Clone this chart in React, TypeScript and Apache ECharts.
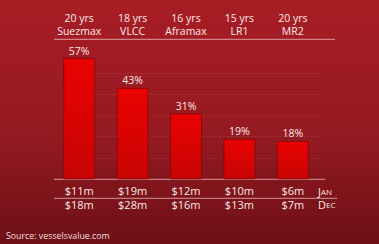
import React, { useEffect, useRef } from "react";
import * as echarts from "echarts";

const categories = ["Suezmax", "VLCC", "Aframax", "LR1", "MR2"];
const ages = ["20 yrs", "18 yrs", "16 yrs", "15 yrs", "20 yrs"];
const shares = [57, 43, 31, 19, 18];
const janValues = ["$11m", "$19m", "$12m", "$10m", "$6m"];
const decValues = ["$18m", "$28m", "$16m", "$13m", "$7m"];
const gridTicks = [0, 10, 20, 30, 40, 50, 60];

const FONT = "Open Sans";
const PX_PER_UNIT = 2.128;
const BASE_Y = 179.3;
const TOP_Y = 39.3;
const MAIN_MAX = (BASE_Y - TOP_Y) / PX_PER_UNIT;
const GRID_MAX = gridTicks[gridTicks.length - 1];

export default function App() {
  const ref = useRef<HTMLDivElement>(null);
  useEffect(() => {
    if (!ref.current) return;
    const chart = echarts.init(ref.current, null, { renderer: "svg" });
    const lineCol = "rgba(255,225,225,0.65)";
    const txt = "#fbe9e9";
    chart.setOption({
      animation: false,
      backgroundColor: new echarts.graphic.LinearGradient(0, 0, 0, 1, [
        { offset: 0, color: "#a81d24" },
        { offset: 0.55, color: "#951a21" },
        { offset: 1, color: "#6c1016" },
      ]),
      textStyle: { fontFamily: FONT },
      grid: [
        { left: 52.5, width: 267, top: TOP_Y, height: BASE_Y - TOP_Y },
        { left: 63, width: 257, top: BASE_Y - GRID_MAX * PX_PER_UNIT, height: GRID_MAX * PX_PER_UNIT },
        { left: 52.5, width: 267, top: TOP_Y, height: BASE_Y - TOP_Y },
      ],
      xAxis: [
        {
          type: "category",
          gridIndex: 0,
          position: "bottom",
          data: categories,
          axisLine: { show: false },
          axisTick: { show: false },
          splitLine: { show: false },
          splitArea: { show: false },
          axisLabel: {
            interval: 0,
            margin: 4,
            color: txt,
            fontSize: 11,
            lineHeight: 14,
            fontFamily: FONT,
            formatter: (v: string) => {
              const i = categories.indexOf(v);
              return janValues[i] + "\n" + decValues[i];
            },
          },
        },
        {
          type: "category",
          gridIndex: 1,
          data: categories,
          show: false,
        },
        {
          type: "category",
          gridIndex: 2,
          position: "top",
          data: categories,
          axisLine: { show: false },
          axisTick: { show: false },
          splitLine: { show: false },
          splitArea: { show: false },
          axisLabel: {
            interval: 0,
            margin: 2,
            color: txt,
            fontSize: 10.5,
            lineHeight: 13,
            fontFamily: FONT,
            formatter: (v: string) => {
              const i = categories.indexOf(v);
              return ages[i] + "\n" + v;
            },
          },
        },
      ],
      yAxis: [
        {
          type: "value",
          gridIndex: 0,
          min: 0,
          max: MAIN_MAX,
          show: false,
          splitLine: { show: false },
        },
        {
          type: "value",
          gridIndex: 1,
          min: 0,
          max: GRID_MAX,
          interval: 10,
          axisLine: { show: false },
          axisTick: { show: false },
          axisLabel: { show: false },
          splitLine: {
            show: true,
            showMinLine: false,
            showMaxLine: false,
            lineStyle: { color: "rgba(255,200,200,0.14)", type: [2, 2], width: 1 },
          },
        },
        {
          type: "value",
          gridIndex: 2,
          min: 1,
          max: 2,
          show: false,
          splitLine: { show: false },
        },
      ],
      series: [
        {
          type: "bar",
          xAxisIndex: 0,
          yAxisIndex: 0,
          data: shares,
          barWidth: 32,
          itemStyle: {
            color: new echarts.graphic.LinearGradient(0, 0, 0, 1, [
              { offset: 0, color: "#ea0202" },
              { offset: 1, color: "#c80404" },
            ]),
            borderColor: "#8c0a0e",
            borderWidth: 1,
          },
          label: {
            show: true,
            position: "top",
            distance: 2,
            color: txt,
            fontSize: 10.5,
            fontFamily: FONT,
            formatter: (p: any) => p.value + "%",
          },
        },
      ],
      graphic: [
        {
          type: "line",
          shape: { x1: 54, y1: TOP_Y, x2: 335, y2: TOP_Y },
          style: { stroke: lineCol, lineWidth: 1 },
        },
        {
          type: "line",
          shape: { x1: 54, y1: BASE_Y, x2: 325, y2: BASE_Y },
          style: { stroke: lineCol, lineWidth: 1 },
        },
        {
          type: "line",
          shape: { x1: 54, y1: 198.3, x2: 337, y2: 198.3 },
          style: { stroke: lineCol, lineWidth: 1 },
        },
        {
          type: "text",
          x: 318,
          y: 191,
          style: {
            text: "{b|J}{s|AN}",
            verticalAlign: "middle",
            rich: {
              b: { fontSize: 11, fill: txt, fontFamily: FONT },
              s: { fontSize: 8, fill: txt, fontFamily: FONT },
            },
          },
        },
        {
          type: "text",
          x: 318,
          y: 204.5,
          style: {
            text: "{b|D}{s|EC}",
            verticalAlign: "middle",
            rich: {
              b: { fontSize: 11, fill: txt, fontFamily: FONT },
              s: { fontSize: 8, fill: txt, fontFamily: FONT },
            },
          },
        },
        {
          type: "text",
          x: 6,
          y: 236,
          style: {
            text: "Source: vesselsvalue.com",
            verticalAlign: "middle",
            fontSize: 8.8,
            fontFamily: FONT,
            fill: "#f3dede",
          },
        },
      ],
    });
    return () => chart.dispose();
  }, []);
  return (
    <div
      ref={ref}
      style={{ position: "fixed", left: 0, top: 0, width: 379, height: 244 }}
    />
  );
}
